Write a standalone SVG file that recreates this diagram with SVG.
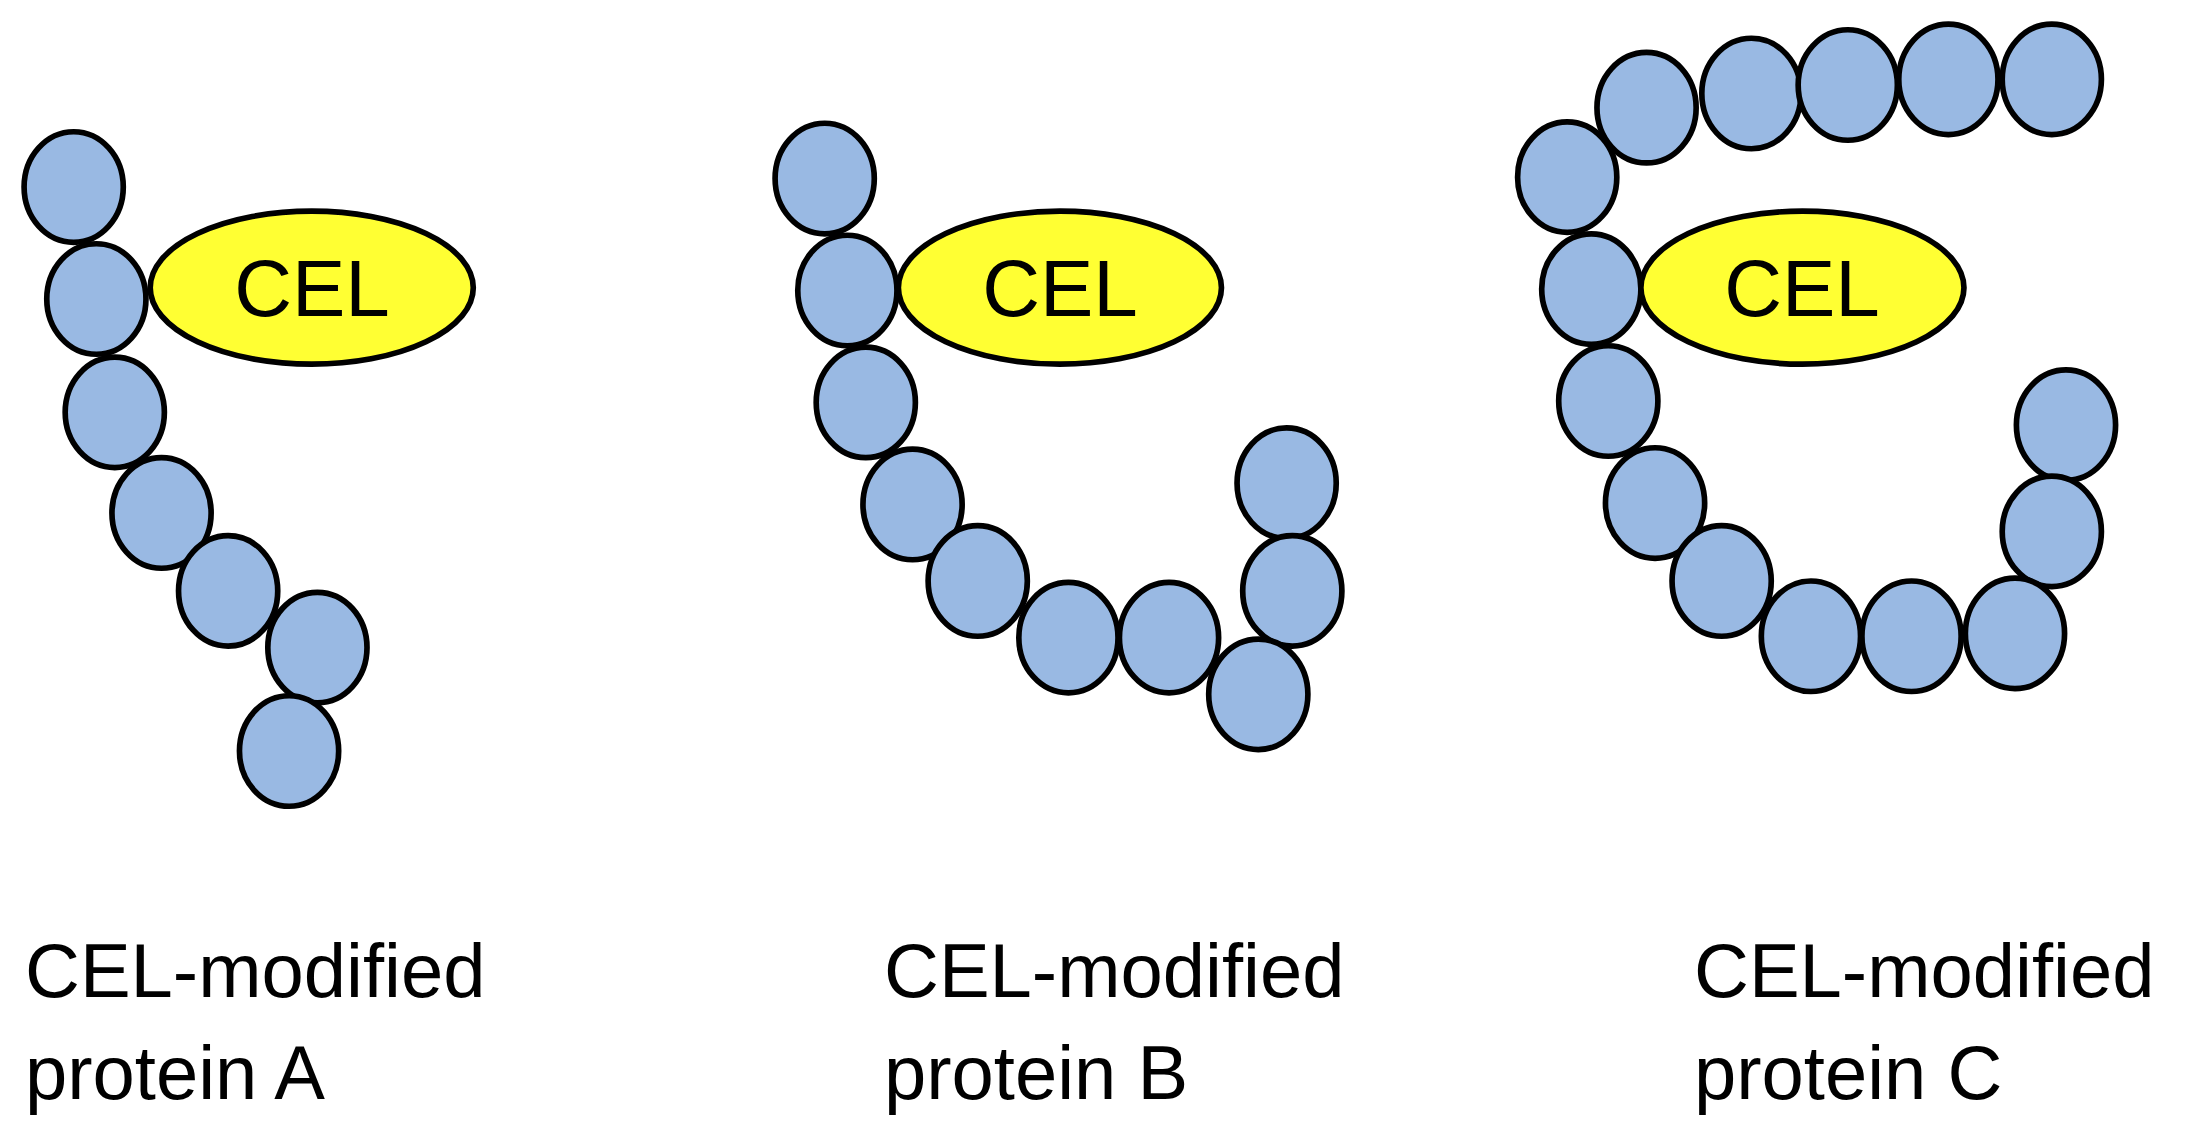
<svg xmlns="http://www.w3.org/2000/svg" width="2210" height="1137" viewBox="0 0 2210 1137">
<style>
.b{fill:#99b9e3;stroke:#000;stroke-width:4}
.c{fill:#ffff33;stroke:#000;stroke-width:4}
.t{font-family:"Liberation Sans",Arial,sans-serif;fill:#000}
.ct{font-size:80px;text-anchor:middle}
.lt{font-size:76px}
</style>
<rect width="2210" height="1137" fill="#fff"/>
<g id="proteinA" transform="scale(1.417)">
<ellipse class="b" cx="52" cy="132" rx="35" ry="39"/>
<ellipse class="b" cx="68" cy="211" rx="35" ry="39"/>
<ellipse class="b" cx="81" cy="291" rx="35" ry="39"/>
<ellipse class="b" cx="114" cy="362" rx="35" ry="39"/>
<ellipse class="b" cx="161" cy="417" rx="35" ry="39"/>
<ellipse class="b" cx="224" cy="457" rx="35" ry="39"/>
<ellipse class="b" cx="204" cy="530" rx="35" ry="39"/>
<ellipse class="c" cx="220" cy="203" rx="114" ry="54"/>
</g>
<g id="proteinB" transform="scale(1.417)">
<ellipse class="b" cx="582" cy="126" rx="35" ry="39"/>
<ellipse class="b" cx="598" cy="205" rx="35" ry="39"/>
<ellipse class="b" cx="611" cy="284" rx="35" ry="39"/>
<ellipse class="b" cx="644" cy="356" rx="35" ry="39"/>
<ellipse class="b" cx="690" cy="410" rx="35" ry="39"/>
<ellipse class="b" cx="754" cy="450" rx="35" ry="39"/>
<ellipse class="b" cx="825" cy="450" rx="35" ry="39"/>
<ellipse class="b" cx="908" cy="341" rx="35" ry="39"/>
<ellipse class="b" cx="912" cy="417" rx="35" ry="39"/>
<ellipse class="b" cx="888" cy="490" rx="35" ry="39"/>
<ellipse class="c" cx="748" cy="203" rx="114" ry="54"/>
</g>
<g id="proteinC" transform="scale(1.417)">
<ellipse class="b" cx="1106" cy="125" rx="35" ry="39"/>
<ellipse class="b" cx="1162" cy="76" rx="35" ry="39"/>
<ellipse class="b" cx="1236" cy="66" rx="35" ry="39"/>
<ellipse class="b" cx="1304" cy="60" rx="35" ry="39"/>
<ellipse class="b" cx="1375" cy="56" rx="35" ry="39"/>
<ellipse class="b" cx="1448" cy="56" rx="35" ry="39"/>
<ellipse class="b" cx="1123" cy="204" rx="35" ry="39"/>
<ellipse class="b" cx="1135" cy="283" rx="35" ry="39"/>
<ellipse class="b" cx="1168" cy="355" rx="35" ry="39"/>
<ellipse class="b" cx="1215" cy="410" rx="35" ry="39"/>
<ellipse class="b" cx="1278" cy="449" rx="35" ry="39"/>
<ellipse class="b" cx="1349" cy="449" rx="35" ry="39"/>
<ellipse class="b" cx="1458" cy="300" rx="35" ry="39"/>
<ellipse class="b" cx="1448" cy="375" rx="35" ry="39"/>
<ellipse class="b" cx="1422" cy="447" rx="35" ry="39"/>
<ellipse class="c" cx="1272" cy="203" rx="114" ry="54"/>
</g>
<g id="labels">
<text class="t ct" x="312" y="316">CEL</text>
<text class="t ct" x="1060" y="316">CEL</text>
<text class="t ct" x="1802" y="316">CEL</text>
<text class="t lt" x="25" y="997">CEL-modified</text>
<text class="t lt" x="25" y="1099">protein A</text>
<text class="t lt" x="884" y="997">CEL-modified</text>
<text class="t lt" x="884" y="1099">protein B</text>
<text class="t lt" x="1694" y="997">CEL-modified</text>
<text class="t lt" x="1694" y="1099">protein C</text>
</g>
</svg>
